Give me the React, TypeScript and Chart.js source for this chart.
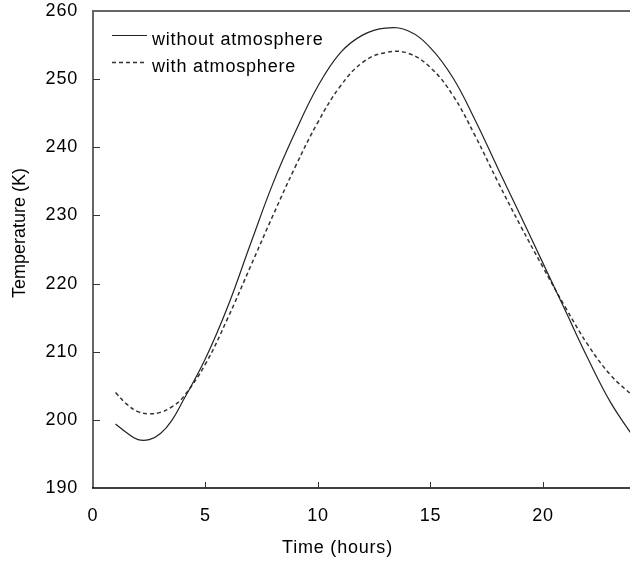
import React, { useEffect, useRef } from "react";
import { Chart, registerables } from "chart.js";

Chart.register(...registerables);

const hours = [1, 1.5, 2, 2.5, 3, 3.5, 4, 5, 6, 7, 8, 9, 10, 11, 12, 13, 14, 15, 16, 17, 18, 19, 20, 21, 22, 23, 24];
const withoutAtmosphere = [199.4, 198.1, 197.1, 197.1, 198.0, 199.9, 202.8, 209.0, 216.7, 225.8, 234.7, 242.3, 249.0, 253.9, 256.5, 257.5, 257.1, 254.6, 250.2, 243.9, 236.9, 230.0, 223.0, 216.0, 209.0, 202.6, 197.6];
const withAtmosphere = [204.0, 202.3, 201.2, 200.9, 201.1, 201.9, 203.3, 208.2, 215.0, 222.5, 230.0, 237.2, 243.7, 249.0, 252.5, 253.9, 253.8, 251.7, 247.6, 241.6, 234.9, 228.5, 222.4, 216.5, 211.0, 206.6, 203.5];
const seriesLabels = ["without atmosphere", "with atmosphere"];
const xTickValues = [0, 5, 10, 15, 20];
const yTickValues = [190, 200, 210, 220, 230, 240, 250, 260];
const xAxisTitle = "Time (hours)";
const yAxisTitle = "Temperature (K)";

const FONT = "'Liberation Sans', Arial, sans-serif";
const SPACING = "0.8px";

const decorPlugin = {
  id: "decor",
  beforeDraw(chart: any) {
    (chart.ctx as any).letterSpacing = SPACING;
  },
  afterDraw(chart: any) {
    const ctx = chart.ctx;
    const { left, right, top, bottom } = chart.chartArea;
    const xs = chart.scales.x;
    const ys = chart.scales.y;
    ctx.save();
    (ctx as any).letterSpacing = SPACING;
    // top border
    ctx.strokeStyle = "#666";
    ctx.lineWidth = 2;
    ctx.beginPath();
    ctx.moveTo(left, top);
    ctx.lineTo(right, top);
    ctx.stroke();
    // left axis
    ctx.beginPath();
    ctx.moveTo(left, top - 1);
    ctx.lineTo(left, bottom);
    ctx.stroke();
    // bottom axis
    ctx.strokeStyle = "#000";
    ctx.lineWidth = 1.5;
    ctx.beginPath();
    ctx.moveTo(left - 1, bottom);
    ctx.lineTo(right, bottom);
    ctx.stroke();
    // inward ticks
    ctx.lineWidth = 1;
    ctx.strokeStyle = "#333";
    xTickValues.forEach((v) => {
      if (v === xs.min) return;
      const px = Math.round(xs.getPixelForValue(v)) + 0.5;
      ctx.beginPath();
      ctx.moveTo(px, bottom);
      ctx.lineTo(px, bottom - 6);
      ctx.stroke();
    });
    yTickValues.forEach((v) => {
      if (v === ys.min || v === ys.max) return;
      const py = Math.round(ys.getPixelForValue(v)) + 0.5;
      ctx.beginPath();
      ctx.moveTo(left, py);
      ctx.lineTo(left + 7, py);
      ctx.stroke();
    });
    // legend
    const rows = [
      { y: 35.5, base: 45, dash: [] as number[], width: 1.2, color: "#222" },
      { y: 62.5, base: 71.5, dash: [4, 3], width: 1.5, color: "#333" },
    ];
    ctx.font = `18px ${FONT}`;
    ctx.fillStyle = "#000";
    ctx.textBaseline = "alphabetic";
    ctx.textAlign = "left";
    rows.forEach((r, i) => {
      ctx.save();
      ctx.strokeStyle = r.color;
      ctx.lineWidth = r.width;
      ctx.setLineDash(r.dash);
      ctx.beginPath();
      ctx.moveTo(112, r.y);
      ctx.lineTo(147, r.y);
      ctx.stroke();
      ctx.restore();
      ctx.fillText(seriesLabels[i], 152, r.base);
    });
    // axis titles
    ctx.textAlign = "left";
    ctx.textBaseline = "middle";
    ctx.fillText(xAxisTitle, 282, 548);
    ctx.save();
    ctx.translate(20, 298);
    ctx.rotate(-Math.PI / 2);
    (ctx as any).letterSpacing = "0px";
    ctx.fillText(yAxisTitle, 0, 0);
    ctx.restore();
    ctx.restore();
  },
};

export default function App() {
  const ref = useRef<HTMLCanvasElement | null>(null);
  useEffect(() => {
    document.body.style.margin = "0";
    if (!ref.current) return;
    const chart = new Chart(ref.current, {
      type: "line",
      data: {
        datasets: [
          {
            label: seriesLabels[0],
            data: hours.map((h, i) => ({ x: h, y: withoutAtmosphere[i] })),
            borderColor: "#222",
            borderWidth: 1.2,
            pointRadius: 0,
            fill: false,
            tension: 0.4,
          },
          {
            label: seriesLabels[1],
            data: hours.map((h, i) => ({ x: h, y: withAtmosphere[i] })),
            borderColor: "#333",
            borderWidth: 1.5,
            borderDash: [4, 3],
            pointRadius: 0,
            fill: false,
            tension: 0.4,
          },
        ],
      },
      options: {
        responsive: false,
        animation: false,
        events: [],
        layout: { padding: { left: 0, right: 0, top: 11, bottom: 0 } },
        plugins: {
          legend: { display: false },
          tooltip: { enabled: false },
          title: { display: false },
        },
        scales: {
          x: {
            type: "linear",
            min: 0,
            max: 23.87,
            afterFit: (s: any) => {
              s.height = 75;
              s.paddingLeft = 0;
              s.paddingRight = 0;
            },
            afterBuildTicks: (s: any) => {
              s.ticks = xTickValues.map((v) => ({ value: v }));
            },
            grid: { display: false, drawTicks: false },
            border: { display: false },
            ticks: {
              padding: 17,
              color: "#000",
              font: { family: FONT, size: 18 },
              maxRotation: 0,
              autoSkip: false,
            },
          },
          y: {
            type: "linear",
            min: 190,
            max: 260,
            afterFit: (s: any) => {
              s.width = 93;
              s.paddingTop = 0;
              s.paddingBottom = 0;
            },
            afterBuildTicks: (s: any) => {
              s.ticks = yTickValues.map((v) => ({ value: v }));
            },
            grid: { display: false, drawTicks: false },
            border: { display: false },
            ticks: {
              padding: 15,
              color: "#000",
              font: { family: FONT, size: 18 },
              autoSkip: false,
            },
          },
        },
      },
      plugins: [decorPlugin],
    } as any);
    return () => chart.destroy();
  }, []);
  return (
    <div style={{ position: "fixed", left: 0, top: 0, width: 630, height: 563, background: "#fff" }}>
      <canvas ref={ref} width={630} height={563} style={{ display: "block" }} />
    </div>
  );
}
